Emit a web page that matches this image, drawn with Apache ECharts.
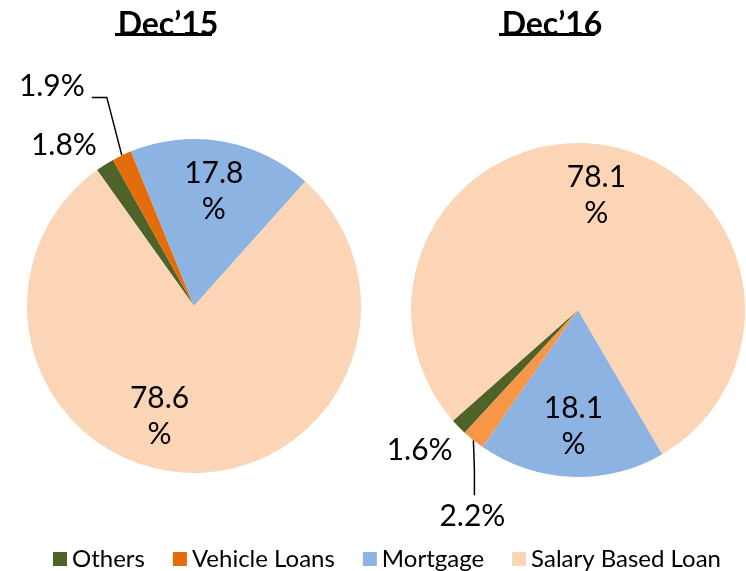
<!DOCTYPE html>
<html>
<head>
<meta charset="utf-8">
<script src="https://cdn.jsdelivr.net/npm/echarts@6/dist/echarts.min.js"></script>
<style>
  html, body { margin: 0; padding: 0; background: #fff; }
  #chart { width: 746px; height: 571px; }
</style>
</head>
<body>
<div id="chart"></div>
<script>
// data
var categories = ['Others', 'Vehicle Loans', 'Mortgage', 'Salary Based Loan'];
var dec15 = [1.8, 1.9, 17.8, 78.6];
var dec16 = [1.6, 2.2, 18.1, 78.1];
var periods = ['Dec’15', 'Dec’16'];

var colors15 = ['#4F6228', '#E46C0A', '#8DB3E2', '#FBD5B5'];
var colors16 = ['#4F6228', '#F79646', '#8DB3E2', '#FBD5B5'];

var FONT = 'Lato';
var SMALL = 5; // slices below this get an outside label

var dom = document.getElementById('chart');
var myChart = echarts.init(dom, null, { renderer: 'canvas' });

function mainData(values, colors) {
    return values.map(function (v, i) {
        var small = v < SMALL;
        return {
            name: categories[i],
            value: v,
            itemStyle: { color: colors[i] },
            label: { show: small },
            labelLine: { show: small, lineStyle: { opacity: (i === 1) ? 1 : 0 } }
        };
    });
}

function ringData(values, offsets) {
    return values.map(function (v, i) {
        return {
            name: categories[i],
            value: v,
            label: { show: v >= SMALL, offset: offsets[i] || [0, 0] }
        };
    });
}

// where the outside labels sit, relative to the slice edge point
var outside15 = {
    0: { dx: -8, dy: -19, align: 'right' },
    1: { dx: -37, dy: -69, align: 'right', line: [[-15, -58], [-30, -58]] }
};
var outside16 = {
    0: { dx: -6, dy: 24, align: 'right' },
    1: { dx: -1, dy: 76, align: 'center', line: [[1, 30], [1, 55]] }
};

function layoutFor(table) {
    return function (params) {
        var cfg = table[params.dataIndex];
        var pts = params.labelLinePoints;
        if (!cfg || !pts) return {};
        var p0 = pts[0];
        var out = {
            x: p0[0] + cfg.dx,
            y: p0[1] + cfg.dy,
            align: cfg.align,
            verticalAlign: 'middle'
        };
        if (cfg.line) {
            out.labelLinePoints = [p0].concat(cfg.line.map(function (d) {
                return [p0[0] + d[0], p0[1] + d[1]];
            }));
        } else {
            out.labelLinePoints = [p0, p0, p0];
        }
        return out;
    };
}

var labelText = { color: '#000', fontFamily: FONT, fontSize: 30, lineHeight: 36 };

function mainSeries(values, colors, center, startAngle, clockwise, table) {
    return {
        type: 'pie',
        center: center,
        radius: 167,
        startAngle: startAngle,
        clockwise: clockwise,
        avoidLabelOverlap: false,
        silent: true,
        emphasis: { disabled: true },
        label: Object.assign({ position: 'outside', formatter: '{c}%' }, labelText),
        labelLine: { show: true, length: 20, length2: 10, smooth: false, lineStyle: { color: '#000', width: 1.5 } },
        labelLayout: layoutFor(table),
        data: mainData(values, colors)
    };
}

function ringSeries(values, center, startAngle, clockwise, offsets) {
    return {
        type: 'pie',
        center: center,
        radius: [60, 167],
        startAngle: startAngle,
        clockwise: clockwise,
        silent: true,
        emphasis: { disabled: true },
        itemStyle: { color: 'rgba(0,0,0,0)' },
        label: Object.assign({ position: 'inside', formatter: '{c}\n%' }, labelText),
        labelLine: { show: false },
        data: ringData(values, offsets)
    };
}

var titleStyle = { fontFamily: FONT, fontSize: 32, fontWeight: 'bold', color: '#000' };

var option = {
    backgroundColor: '#fff',
    animation: false,
    title: [
        { text: periods[0], left: 163, top: 4, textAlign: 'center', textStyle: titleStyle },
        { text: periods[1], left: 547, top: 4, textAlign: 'center', textStyle: titleStyle }
    ],
    graphic: [
        { type: 'rect', shape: { x: 115, y: 33, width: 97, height: 3 }, style: { fill: '#000' } },
        { type: 'rect', shape: { x: 499, y: 33, width: 96, height: 3 }, style: { fill: '#000' } }
    ],
    legend: {
        data: categories,
        left: 48,
        top: 542,
        icon: 'rect',
        itemWidth: 14,
        itemHeight: 14,
        itemGap: 28,
        selectedMode: false,
        textStyle: { fontFamily: FONT, fontSize: 24, color: '#000' }
    },
    series: [
        mainSeries(dec15, colors15, [194, 306], 125.5, true, outside15),
        mainSeries(dec16, colors16, [578, 310], 221.5, false, outside16),
        ringSeries(dec15, [194, 306], 125.5, true, { 3: [-28, -6] }),
        ringSeries(dec16, [578, 310], 221.5, false, {})
    ]
};

if (option && typeof option === 'object') {
    myChart.setOption(option);
}
</script>
</body>
</html>
